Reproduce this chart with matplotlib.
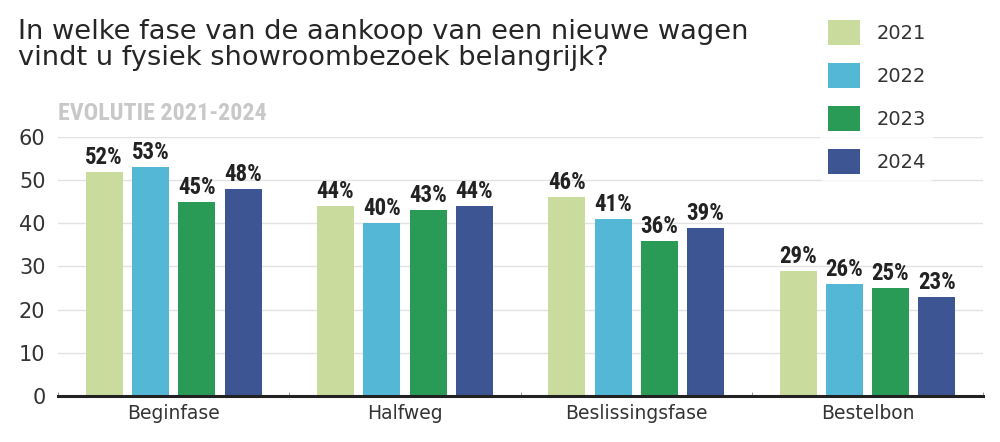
import matplotlib
matplotlib.use("Agg")
import matplotlib.pyplot as plt
from matplotlib.patches import Patch
from matplotlib import font_manager
import numpy as np

categories = ["Beginfase", "Halfweg", "Beslissingsfase", "Bestelbon"]
years = ["2021", "2022", "2023", "2024"]
values_2021 = [52, 44, 46, 29]
values_2022 = [53, 40, 41, 26]
values_2023 = [45, 43, 36, 25]
values_2024 = [48, 44, 39, 23]
series = [values_2021, values_2022, values_2023, values_2024]
colors = ["#c9dc9e", "#55b7d6", "#2a9a57", "#3d5592"]
yticks = [0, 10, 20, 30, 40, 50, 60]

names = sorted({f.name for f in font_manager.fontManager.ttflist})
narrow = None
for cand in ["Liberation Sans Narrow", "DejaVu Sans Condensed", "Roboto Condensed", "Open Sans Condensed"]:
    if cand in names:
        narrow = cand
        break

fig = plt.figure(figsize=(10, 4.42), dpi=100)
ax = fig.add_axes([0.058, 0.1041, 0.925, 0.586])

x = np.arange(len(categories))
width = 0.16
offsets = [-0.3, -0.1, 0.1, 0.3]
for vals, col, off, yr in zip(series, colors, offsets, years):
    bars = ax.bar(x + off, vals, width, color=col, zorder=2, label=yr)
    for b, v in zip(bars, vals):
        kw = dict(fontweight="bold", fontsize=16.5, color="#222222")
        if narrow:
            kw["family"] = narrow
        else:
            kw["fontsize"] = 13
        ax.text(b.get_x() + b.get_width() / 2, v + 1.85, f"{v}%",
                ha="center", va="baseline", **kw)

ax.set_xlim(-0.5, 3.5)
ax.set_ylim(0, 60)
ax.set_yticks(yticks)
ax.set_xticks(x)
ax.set_xticklabels(categories, fontsize=13.5, color="#333333")
ax.set_xticks(np.arange(-0.5, 4.0, 1.0), minor=True)
ax.tick_params(axis="x", which="major", length=0, pad=6)
ax.tick_params(axis="x", which="minor", length=3, direction="in", color="#888888")
ax.tick_params(axis="y", length=0, labelsize=15, labelcolor="#333333", pad=9)
ax.grid(axis="y", color="#e2e2e2", linewidth=1, zorder=0)
ax.set_axisbelow(True)
for s in ["top", "right", "left"]:
    ax.spines[s].set_visible(False)
ax.spines["bottom"].set_linewidth(2.2)
ax.spines["bottom"].set_color("#222222")
ax.spines["bottom"].set_zorder(3)

fig.text(0.018, 1 - 65 / 442, "In welke fase van de aankoop van een nieuwe wagen\nvindt u fysiek showroombezoek belangrijk?",
         fontsize=19.6, color="#262626", ha="left", va="baseline", linespacing=0.98)
sub_kw = dict(fontweight="bold", fontsize=17.3, color="#c8c8c8")
if narrow:
    sub_kw["family"] = narrow
else:
    sub_kw["fontsize"] = 14
fig.text(0.058, 1 - 120 / 442, "EVOLUTIE 2021-2024", ha="left", va="baseline", **sub_kw)

handles = [Patch(facecolor=c, edgecolor="none") for c in colors]
leg = fig.legend(handles, years, loc="upper left", bbox_to_anchor=(0.81, 0.994),
                 frameon=True, fontsize=14, handlelength=1.65, handleheight=1.55,
                 labelspacing=0.96, handletextpad=0.9, borderpad=0.4)
leg.get_frame().set_facecolor("white")
leg.get_frame().set_edgecolor("none")
for t in leg.get_texts():
    t.set_color("#333333")

fig.savefig("out.png", dpi=100, facecolor="white")
